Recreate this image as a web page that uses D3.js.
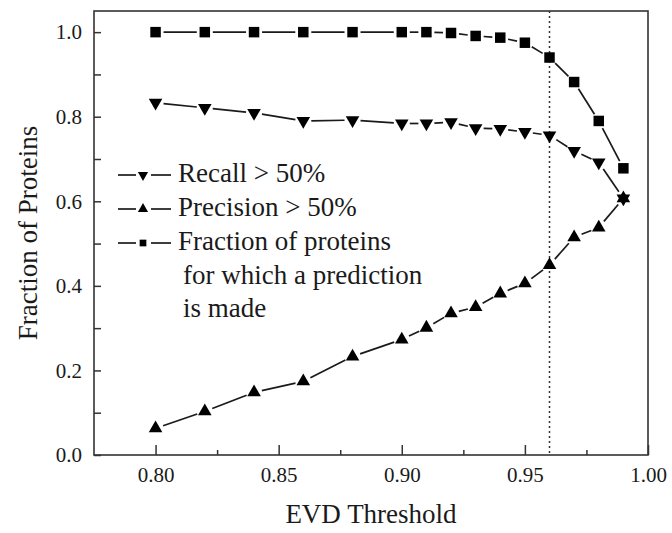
<!DOCTYPE html>
<html>
<head>
<meta charset="utf-8">
<script src="https://cdn.jsdelivr.net/npm/d3@7"></script>
<style>
  body { margin: 0; background: #fff; }
  text { font-family: "Liberation Serif", "DejaVu Serif", serif; fill: #1a1a1a; }
</style>
</head>
<body>
<svg width="672" height="533"></svg>
<script>

var thresholds = [0.80, 0.82, 0.84, 0.86, 0.88, 0.90, 0.91, 0.92, 0.93, 0.94, 0.95, 0.96, 0.97, 0.98, 0.99];
var fraction   = [1.0, 1.0, 1.0, 1.0, 1.0, 1.0, 1.0, 0.998, 0.991, 0.987, 0.975, 0.940, 0.882, 0.790, 0.678];
var recall     = [0.833, 0.821, 0.809, 0.790, 0.792, 0.784, 0.784, 0.787, 0.773, 0.771, 0.764, 0.756, 0.719, 0.692, 0.607];
var precision  = [0.063, 0.103, 0.148, 0.174, 0.233, 0.273, 0.301, 0.335, 0.350, 0.382, 0.406, 0.449, 0.515, 0.538, 0.607];

var xTicks = [0.80, 0.85, 0.90, 0.95, 1.00];
var yTicks = [0.0, 0.2, 0.4, 0.6, 0.8, 1.0];
var cutoff = 0.96;

var legendLines = ["Recall > 50%", "Precision > 50%", "Fraction of proteins", "for which a prediction", "is made"];

var svg = d3.select("svg");
var plotL = 94, plotR = 648, plotT = 11, plotB = 455;

var x = d3.scaleLinear().domain([0.775, 1.0]).range([plotL, plotR]);
var y = d3.scaleLinear().domain([0, 1.05]).range([plotB, plotT]);

var ink = "#1a1a1a";

// frame
svg.append("rect")
    .attr("x", plotL).attr("y", plotT)
    .attr("width", plotR - plotL).attr("height", plotB - plotT)
    .attr("fill", "none").attr("stroke", "#333").attr("stroke-width", 1.6);

// x axis, ticks pointing inward
var xAxis = svg.append("g")
    .attr("transform", "translate(0," + plotB + ")")
    .call(d3.axisBottom(x).tickValues(xTicks).tickSizeInner(-10).tickSizeOuter(0)
      .tickPadding(12).tickFormat(d3.format(".2f")));
xAxis.select(".domain").remove();

svg.append("g")
    .attr("transform", "translate(0," + plotB + ")")
    .call(d3.axisBottom(x).tickValues([0.825, 0.875, 0.925, 0.975]).tickSizeInner(-5).tickSizeOuter(0).tickFormat(""))
    .select(".domain").remove();

var yAxis = svg.append("g")
    .attr("transform", "translate(" + plotL + ",0)")
    .call(d3.axisLeft(y).tickValues(yTicks).tickSizeInner(-7).tickSizeOuter(0)
      .tickPadding(12).tickFormat(d3.format(".1f")));
yAxis.select(".domain").remove();

svg.append("g")
    .attr("transform", "translate(" + plotL + ",0)")
    .call(d3.axisLeft(y).tickValues([0.1, 0.3, 0.5, 0.7, 0.9]).tickSizeInner(-7).tickSizeOuter(0).tickFormat(""))
    .select(".domain").remove();

svg.selectAll(".tick line").attr("stroke", "#333").attr("stroke-width", 1.5);
svg.selectAll(".tick text")
    .attr("font-size", 21)
    .attr("font-family", "Liberation Serif, serif")
    .attr("fill", ink);

// axis titles
svg.append("text")
    .attr("x", (plotL + plotR) / 2).attr("y", 523)
    .attr("text-anchor", "middle").attr("font-size", 27)
    .text("EVD Threshold");

svg.append("text")
    .attr("transform", "translate(37," + (plotT + plotB) / 2 + ") rotate(-90)")
    .attr("text-anchor", "middle").attr("font-size", 27)
    .text("Fraction of Proteins");

// cutoff line
svg.append("line")
    .attr("x1", x(cutoff)).attr("x2", x(cutoff))
    .attr("y1", plotT).attr("y2", plotB)
    .attr("stroke", "#333").attr("stroke-width", 1.5)
    .attr("stroke-dasharray", "2,3");

// series: line segments with small gaps at the markers
var series = [
  { values: fraction, shape: d3.symbolSquare, size: 110, rot: 0 },
  { values: recall, shape: d3.symbolTriangle, size: 80, rot: 180 },
  { values: precision, shape: d3.symbolTriangle, size: 80, rot: 0 }
];

var gap = 8;
series.forEach(function(s) {
  var pts = thresholds.map(function(t, i) { return [x(t), y(s.values[i])]; });
  var segs = d3.pairs(pts);
  svg.append("g").selectAll("line")
    .data(segs)
    .enter().append("line")
      .each(function(d) {
        var dx = d[1][0] - d[0][0], dy = d[1][1] - d[0][1];
        var len = Math.sqrt(dx * dx + dy * dy);
        var ux = dx / len, uy = dy / len;
        d3.select(this)
          .attr("x1", d[0][0] + ux * gap).attr("y1", d[0][1] + uy * gap)
          .attr("x2", d[1][0] - ux * gap).attr("y2", d[1][1] - uy * gap);
      })
      .attr("stroke", ink).attr("stroke-width", 1.7);

  svg.append("g").selectAll("path")
    .data(pts)
    .enter().append("path")
      .attr("d", d3.symbol().type(s.shape).size(s.size))
      .attr("transform", function(d) { return "translate(" + d[0] + "," + d[1] + ") rotate(" + s.rot + ")"; })
      .attr("fill", "#000");
});

// legend
var legendY = [175, 209, 243];
var legendShapes = [
  { shape: d3.symbolTriangle, rot: 180 },
  { shape: d3.symbolTriangle, rot: 0 },
  { shape: d3.symbolSquare, rot: 0 }
];
legendShapes.forEach(function(s, i) {
  var g = svg.append("g").attr("transform", "translate(0," + legendY[i] + ")");
  g.append("line").attr("x1", 118).attr("x2", 136).attr("y1", 0).attr("y2", 0)
    .attr("stroke", ink).attr("stroke-width", 1.7);
  g.append("line").attr("x1", 151).attr("x2", 171).attr("y1", 0).attr("y2", 0)
    .attr("stroke", ink).attr("stroke-width", 1.7);
  g.append("path")
    .attr("d", d3.symbol().type(s.shape).size(45))
    .attr("transform", "translate(143,0) rotate(" + s.rot + ")")
    .attr("fill", "#000");
});

var textBase = [182, 216, 250, 284, 317];
var textX = [178, 178, 178, 183, 183];
svg.append("g").selectAll("text")
  .data(legendLines)
  .enter().append("text")
    .attr("x", function(d, i) { return textX[i]; })
    .attr("y", function(d, i) { return textBase[i]; })
    .attr("font-size", 27)
    .text(function(d) { return d; });

</script>
</body>
</html>
